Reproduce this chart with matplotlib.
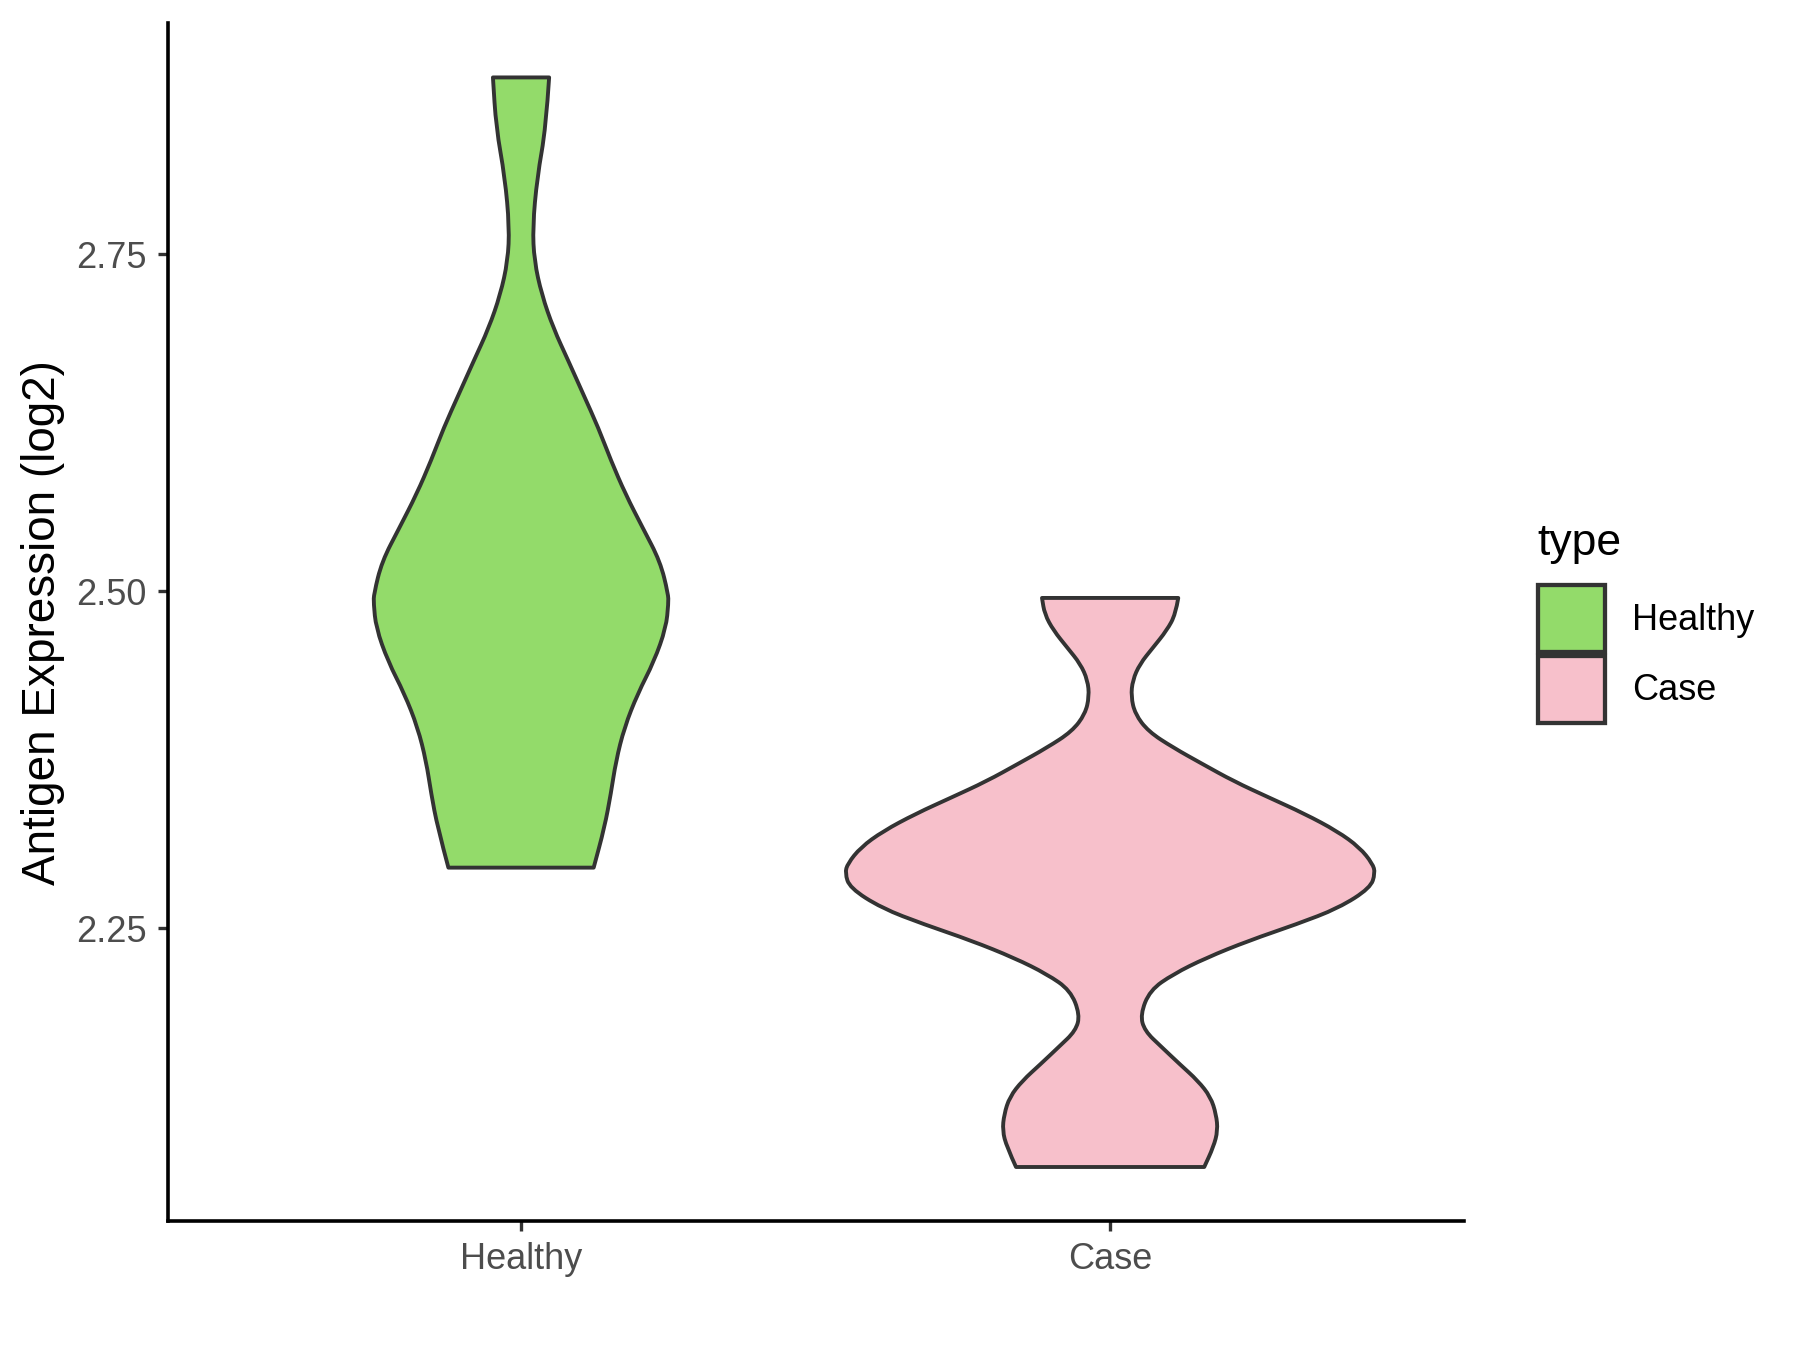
import matplotlib
matplotlib.use("Agg")
import matplotlib.pyplot as plt
from matplotlib.patches import Rectangle, PathPatch
from matplotlib.path import Path
import numpy as np

# --- data (violin outlines: level -> relative density) ---
GROUPS = ["Healthy", "Case"]
COLORS = ["#93DB6A", "#F7C0CB"]

healthy_levels = [2.881, 2.844, 2.807, 2.770, 2.745, 2.720, 2.695, 2.671, 2.646, 2.621,
                  2.597, 2.572, 2.547, 2.522, 2.498, 2.491, 2.473, 2.448, 2.424, 2.399,
                  2.374, 2.350, 2.325, 2.295]
healthy_density = [0.106, 0.094, 0.061, 0.044, 0.050, 0.078, 0.122, 0.178, 0.235, 0.292,
                   0.339, 0.394, 0.459, 0.525, 0.555, 0.556, 0.547, 0.502, 0.440, 0.390,
                   0.358, 0.339, 0.315, 0.274]

case_levels = [2.495, 2.483, 2.471, 2.458, 2.446, 2.434, 2.422, 2.409, 2.396, 2.384,
               2.372, 2.359, 2.347, 2.335, 2.322, 2.310, 2.298, 2.291, 2.280, 2.265,
               2.253, 2.241, 2.228, 2.216, 2.204, 2.186, 2.174, 2.162, 2.149, 2.137,
               2.125, 2.112, 2.100, 2.088, 2.073]
case_density = [0.257, 0.247, 0.214, 0.161, 0.112, 0.085, 0.079, 0.094, 0.144, 0.238,
                0.347, 0.467, 0.599, 0.733, 0.857, 0.941, 0.990, 1.000, 0.982, 0.862,
                0.703, 0.525, 0.361, 0.238, 0.150, 0.114, 0.130, 0.194, 0.264, 0.331,
                0.379, 0.400, 0.406, 0.390, 0.355]

Y_TICKS = [2.25, 2.50, 2.75]
Y_LABEL = "Antigen Expression (log2)"
LEGEND_TITLE = "type"

# --- style ---
plt.rcParams['font.family'] = ['Liberation Sans', 'DejaVu Sans']
EDGE = "#333333"
TICK_TXT = "#4D4D4D"
LW = 1.4


def smooth_side(pts):
    """Quadratic-bezier path pieces through the midpoints of the read points."""
    verts = [pts[0]]
    codes = [Path.LINETO]
    for k in range(1, len(pts) - 1):
        mid = ((pts[k][0] + pts[k + 1][0]) / 2, (pts[k][1] + pts[k + 1][1]) / 2)
        verts += [pts[k], mid]
        codes += [Path.CURVE3, Path.CURVE3]
    verts.append(pts[-1])
    codes.append(Path.LINETO)
    return verts, codes


def violin_path(pos, lv, hw):
    right = list(zip(pos + hw, lv))
    left = list(zip(pos - hw, lv))[::-1]
    v1, c1 = smooth_side(right)
    v2, c2 = smooth_side(left)
    c1[0] = Path.MOVETO
    verts = v1 + v2 + [v1[0]]
    codes = c1 + c2 + [Path.CLOSEPOLY]
    return Path(verts, codes)


fig = plt.figure(figsize=(9, 6.75), dpi=200)
ax = fig.add_axes([0.0931, 0.0952, 0.72, 0.8878])

levels = [np.array(healthy_levels), np.array(case_levels)]
dens = [np.array(healthy_density), np.array(case_density)]
dmax = max(d.max() for d in dens)

# ggplot-like violins (scale = "area", width 0.9)
for i, (lv, d, col) in enumerate(zip(levels, dens, COLORS)):
    pos = i + 1
    hw = d / dmax * 0.45
    patch = PathPatch(violin_path(pos, lv, hw), facecolor=col, edgecolor=EDGE,
                      linewidth=LW, joinstyle="round")
    ax.add_patch(patch)

all_vals = np.concatenate(levels)
span = all_vals.max() - all_vals.min()
ax.set_ylim(all_vals.min() - 0.05 * span, all_vals.max() + 0.05 * span)
ax.set_xlim(0.4, 2.6)

ax.set_xticks([1, 2])
ax.set_xticklabels(GROUPS)
ax.set_yticks(Y_TICKS)
ax.set_yticklabels([f"{t:.2f}" for t in Y_TICKS])
ax.tick_params(axis="both", length=3.5, width=1.2, color=EDGE, labelsize=13,
               labelcolor=TICK_TXT, pad=4)
ax.set_ylabel(Y_LABEL, fontsize=16.5, color="black", labelpad=4)

for side in ["top", "right"]:
    ax.spines[side].set_visible(False)
for side in ["left", "bottom"]:
    ax.spines[side].set_linewidth(1.3)
    ax.spines[side].set_color("black")

# --- legend (drawn by hand to match ggplot guide layout) ---
W, H = 1800.0, 1350.0
fig.text(1537 / W, 1 - 543 / H, LEGEND_TITLE, fontsize=16, va="center", ha="left")
key_tops = [585, 656]
for name, col, top in zip(GROUPS, COLORS, key_tops):
    fig.patches.append(Rectangle((1538 / W, 1 - (top + 67) / H), 67 / W, 67 / H,
                                 transform=fig.transFigure, facecolor=col,
                                 edgecolor=EDGE, linewidth=LW * 1.1))
    fig.text(1632 / W, 1 - (top + 35) / H, name, fontsize=13, va="center", ha="left")

fig.savefig("out.png", dpi=200)
